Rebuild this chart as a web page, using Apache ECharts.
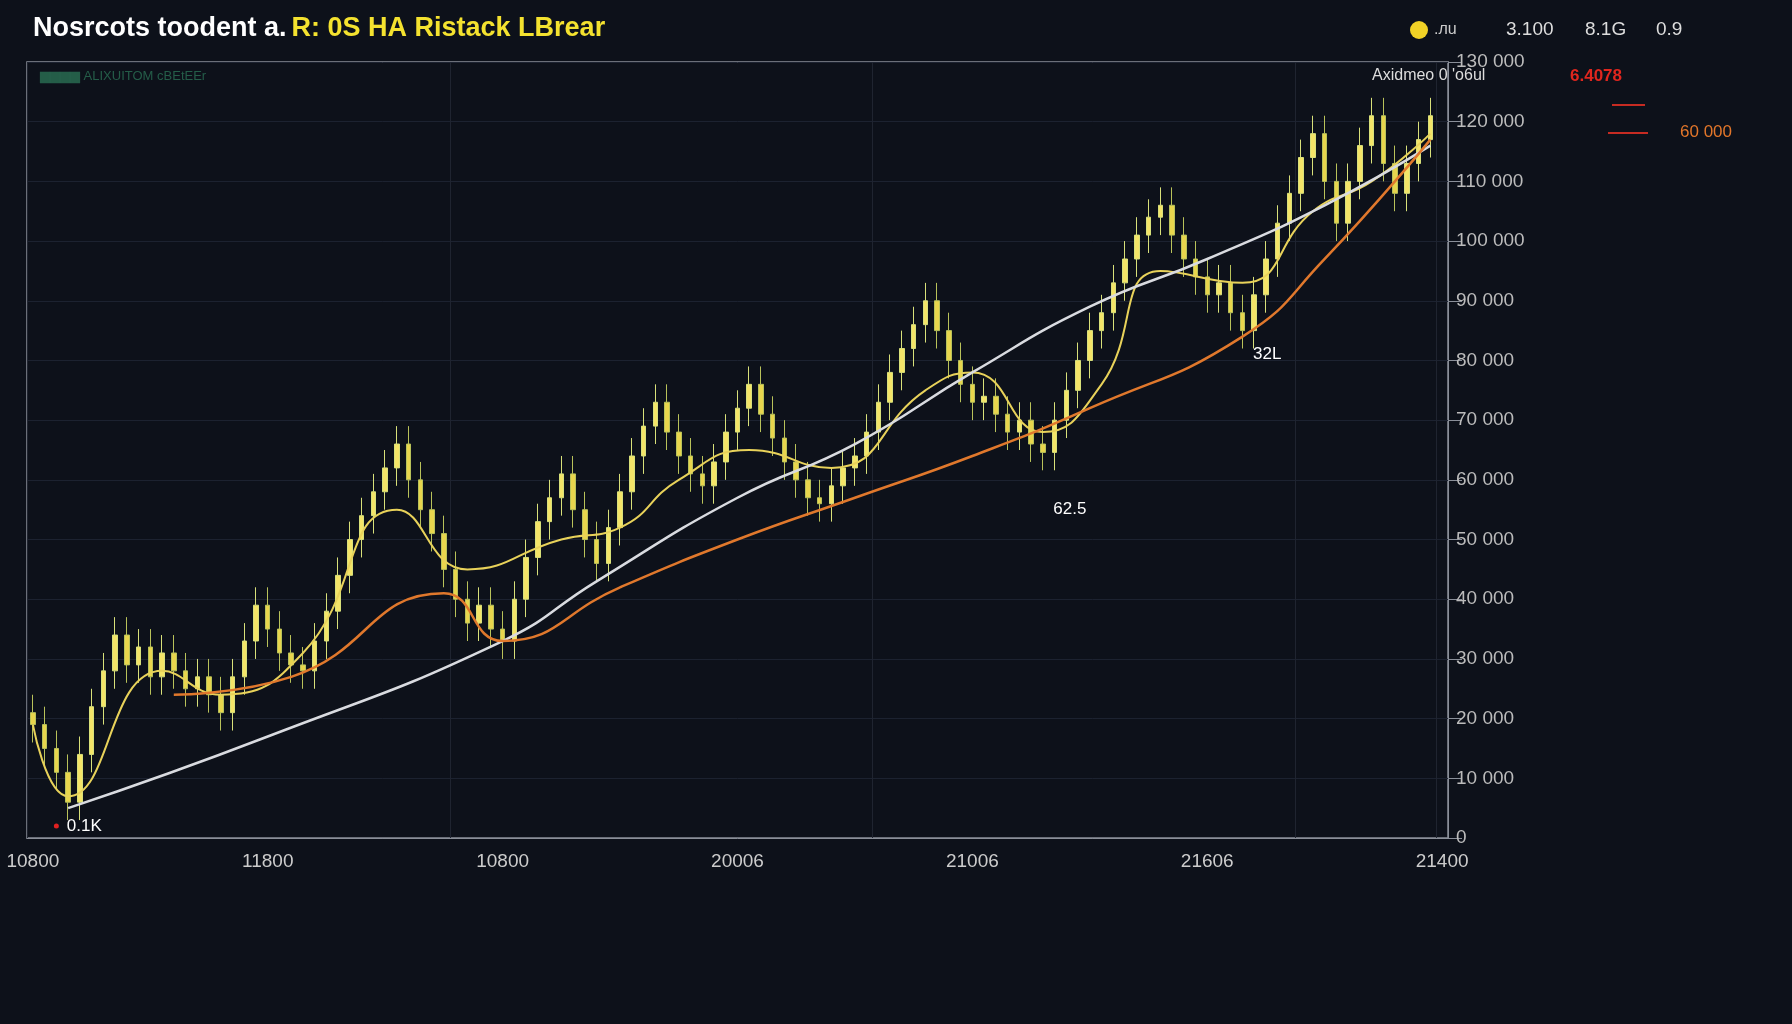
<!DOCTYPE html>
<html>
<head>
<meta charset="utf-8">
<script src="https://cdn.jsdelivr.net/npm/echarts@6/dist/echarts.min.js"></script>
<style>html,body{margin:0;background:#0d111a}#main{width:1792px;height:1024px}</style>
</head>
<body>
<div id="main"></div>
<script>
// 收盘价（千）
var closes = [19,15,11,6,14,22,28,34,29,32,27,31,28,25,27,24,21,27,33,39,35,31,29,28,33,38,44,50,54,58,
  62,66,60,55,51,45,40,36,39,35,33,40,47,53,57,61,55,50,46,52,58,64,69,73,68,64,61,59,63,68,
  72,76,71,67,63,60,57,56,59,62,64,68,73,78,82,86,90,85,80,76,73,74,71,68,70,66,64.6,70,75,80,
  85,88,93,97,101,104,106,101,97,94,91,93,88,85,91,97,103,108,114,118,110,103,110,116,121,113,108,113,117,121];
var xLabels = ['10800','11800','10800','20006','21006','21606','21400'];
// 均线 [序号, 值]
var maShort = [[0,19],[3,7],[11,28],[16,24],[23,31],[31,55],[37,45],[45,50],[50,52],[55,60],[61,65],[68,62],[76,75],[80,78],[86,68],[91,76],[96,95],[103,93],[109,105],[114,110],[119,118]];
var maMid = [[3,5],[20,17],[40,33],[48,43],[60,57],[70,66],[80,78],[90,89],[100,97],[110,106],[119,116]];
var maLong = [[12,24],[22,27],[35,41],[40,33],[50,42],[60,50],[70,57],[80,64],[90,72],[103,84],[110,97],[119,117]];

var cats = [], ohlc = [];
for (var i = 0; i <= closes.length; i++) cats.push(i);
for (var i = 0; i < closes.length; i++) {
  var o = i === 0 ? closes[0] + 2 : closes[i - 1];
  var c = closes[i];
  ohlc.push([o, c, Math.min(o, c) - 3, Math.max(o, c) + 3]);
}

var chart = echarts.init(document.getElementById('main'));
chart.setOption({
  backgroundColor: '#0d111a',
  animation: false,
  title: {
    left: 28, top: 10,
    text: '{w|Nosrcots toodent a.} {y|R: 0S HA Ristack LBrear}',
    textStyle: {rich: {
      w: {color: '#ffffff', fontSize: 27, fontWeight: 'bold', fontFamily: 'Liberation Sans'},
      y: {color: '#f4e22f', fontSize: 27, fontWeight: 'bold', fontFamily: 'Liberation Sans'}
    }}
  },
  graphic: [
    {type: 'circle', shape: {cx: 1419, cy: 30, r: 9}, style: {fill: '#f1d226'}},
    {type: 'text', left: 1434, top: 22, style: {text: '.лu', fill: '#ccc', fontSize: 16}},
    {type: 'text', left: 1506, top: 20, style: {text: '3.100', fill: '#ddd', fontSize: 19}},
    {type: 'text', left: 1585, top: 20, style: {text: '8.1G', fill: '#ddd', fontSize: 19}},
    {type: 'text', left: 1656, top: 20, style: {text: '0.9', fill: '#ddd', fontSize: 19}},
    {type: 'text', left: 40, top: 70, style: {text: '▆▆▆▆ ALIXUITOM cBEtEEr', fill: '#2f7d5c', fontSize: 13, opacity: 0.7}},
    {type: 'text', left: 1372, top: 68, style: {text: 'Axidmeo 0 \'o6ul', fill: '#ddd', fontSize: 16}},
    {type: 'text', left: 1570, top: 68, style: {text: '6.4078', fill: '#e0261e', fontSize: 17, fontWeight: 'bold'}},
    {type: 'line', shape: {x1: 1612, y1: 105, x2: 1645, y2: 105}, style: {stroke: '#c62b22', lineWidth: 2}},
    {type: 'line', shape: {x1: 1608, y1: 133, x2: 1648, y2: 133}, style: {stroke: '#c62b22', lineWidth: 2}},
    {type: 'text', left: 1680, top: 124, style: {text: '60 000', fill: '#e2762a', fontSize: 17}}
  ],
  grid: {left: 27, right: 344, top: 62, bottom: 186, show: true, borderColor: '#8a8f99', borderWidth: 1.5},
  xAxis: {
    type: 'category', data: cats, boundaryGap: true,
    axisLine: {lineStyle: {color: '#8a8f99'}},
    axisTick: {show: false},
    axisLabel: {
      color: '#ccc', fontSize: 19, margin: 14, showMaxLabel: true,
      interval: function (idx) { return idx % 20 === 0; },
      formatter: function (v, idx) { return xLabels[idx / 20] || ''; }
    },
    splitLine: {show: true, interval: 35, lineStyle: {color: '#1f2430'}}
  },
  yAxis: {
    type: 'value', position: 'right', min: 0, max: 130, interval: 10,
    axisLine: {show: true, lineStyle: {color: '#8a8f99'}},
    axisTick: {show: true, length: 14, lineStyle: {color: '#8a8f99'}},
    axisLabel: {color: '#bbb', fontSize: 19, margin: 8,
      formatter: function (v) { return v === 0 ? '0' : v + ' 000'; }},
    splitLine: {lineStyle: {color: '#1c2230'}}
  },
  series: [
    {
      type: 'candlestick', data: ohlc, barWidth: 5,
      itemStyle: {color: '#f4e468', color0: '#e8d54d', borderColor: '#d8e07a', borderColor0: '#b9c25a', borderWidth: 1},
      markPoint: {
        symbol: 'circle', symbolSize: 5,
        itemStyle: {color: '#e02020'},
        label: {color: '#fff', fontSize: 17, position: 'right', distance: 8},
        data: [
          {coord: [2, 2], value: '0.1K'},
          {coord: [86, 55], value: '62.5', itemStyle: {color: 'transparent'}},
          {coord: [103, 81], value: '32L', itemStyle: {color: 'transparent'}}
        ]
      }
    },
    {type: 'line', data: maShort, smooth: true, symbol: 'none', lineStyle: {color: '#e8d25a', width: 2}},
    {type: 'line', data: maMid, smooth: true, symbol: 'none', lineStyle: {color: '#d9dbe0', width: 2.5}},
    {type: 'line', data: maLong, smooth: true, symbol: 'none', lineStyle: {color: '#e0782c', width: 2.5}}
  ]
});
</script>
</body>
</html>
